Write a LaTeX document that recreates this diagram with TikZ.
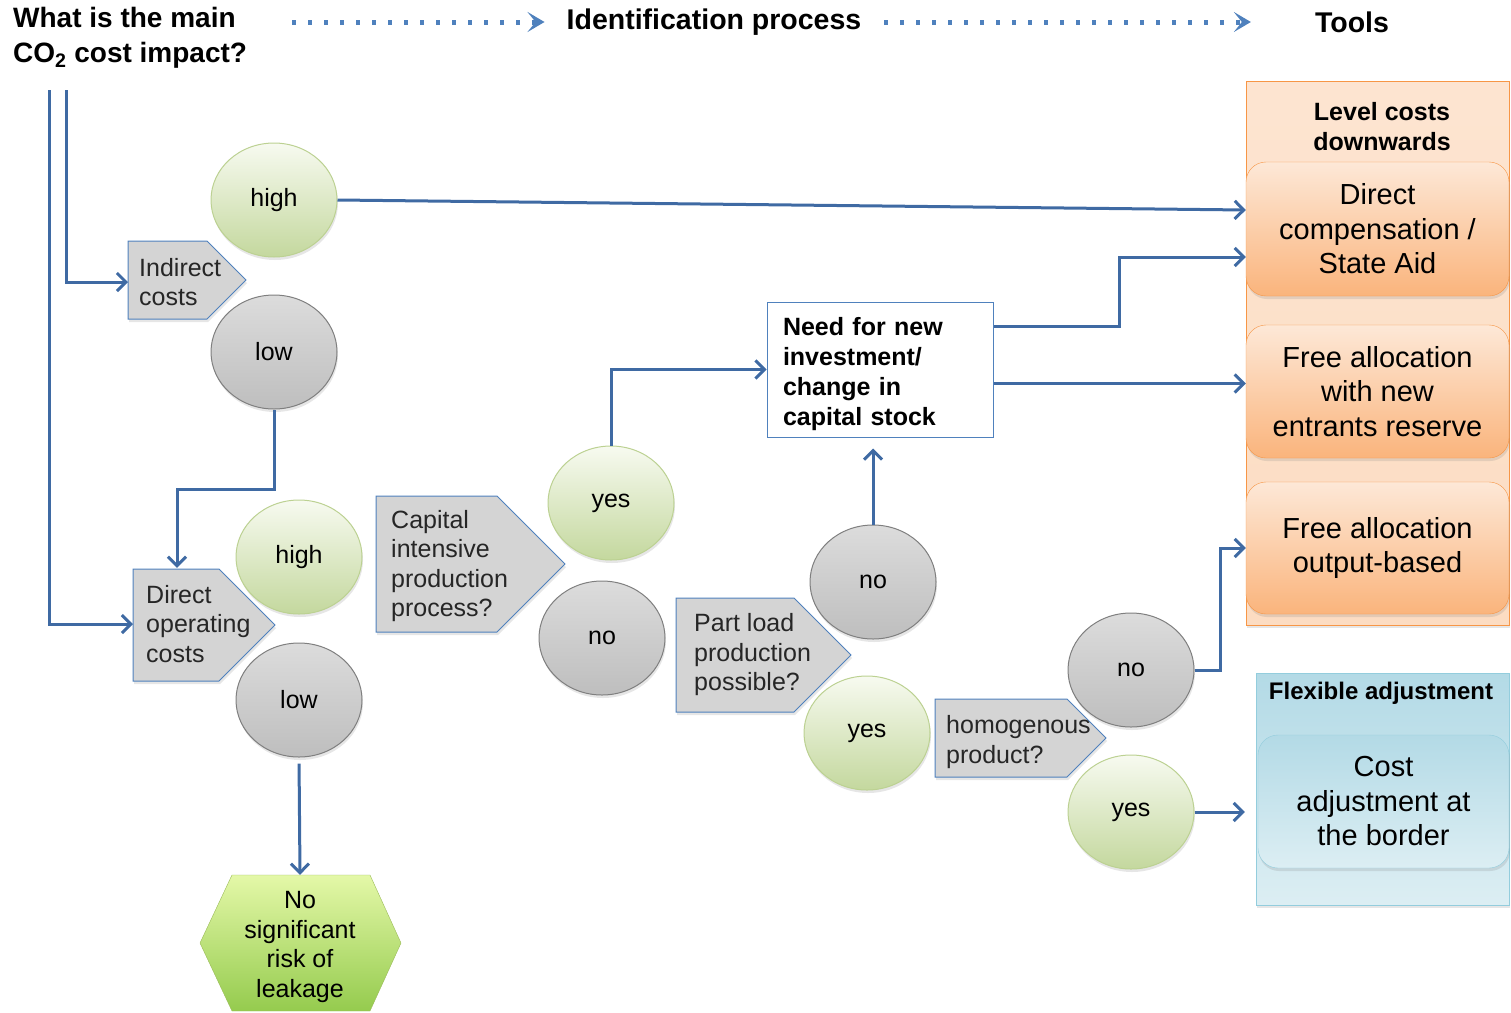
\documentclass[tikz,border=0pt]{standalone}
\usepackage{fontspec}
\setmainfont{Liberation Sans}
\usetikzlibrary{arrows.meta,shapes.geometric,shadows}

\definecolor{linkblue}{HTML}{3F6AA3}
\definecolor{dotblue}{HTML}{4F81BD}
\definecolor{qfill}{HTML}{D4D4D4}
\definecolor{qtext}{HTML}{262626}
\definecolor{greentop}{HTML}{F7FAF0}
\definecolor{greenbot}{HTML}{C4D89E}
\definecolor{greenline}{HTML}{BCD192}
\definecolor{graytop}{HTML}{DCDCDC}
\definecolor{graybot}{HTML}{BEBEBE}
\definecolor{grayline}{HTML}{7F7F7F}
\definecolor{orangeline}{HTML}{F79646}
\definecolor{orangetop}{HTML}{FDE8D7}
\definecolor{orangebot}{HTML}{FAB47C}
\definecolor{orangepanel}{HTML}{FCDCC2}
\definecolor{bluetop}{HTML}{B3DAE6}
\definecolor{bluebot}{HTML}{DCEEF3}
\definecolor{blueline}{HTML}{93CDDD}
\definecolor{hextop}{HTML}{E4F8A8}
\definecolor{hexbot}{HTML}{95CB4E}
\definecolor{hexline}{HTML}{9BBB59}

\tikzset{
  txt/.style={font=\fontsize{25}{29.5}\selectfont},
  boldtxt/.style={font=\fontsize{25}{30}\selectfont\bfseries},
  headtxt/.style={font=\fontsize{28}{35}\selectfont\bfseries, inner sep=0pt},
  link/.style={draw=linkblue, line width=3pt, -{Straight Barb[length=9pt,width=18pt]}},
  dotlink/.style={draw=dotblue, line width=5pt, dash pattern=on 4pt off 12pt,
    -{Stealth[length=17pt,width=20pt,inset=8pt]}},
  greenball/.style={ellipse, txt, minimum width=126pt, minimum height=114pt, inner sep=0pt,
    draw=greenline, line width=1pt, top color=greentop, bottom color=greenbot,
    drop shadow={opacity=0.2, shadow xshift=1pt, shadow yshift=-3pt}},
  grayball/.style={ellipse, txt, minimum width=126pt, minimum height=114pt, inner sep=0pt,
    draw=grayline, line width=1pt, top color=graytop, bottom color=graybot,
    drop shadow={opacity=0.2, shadow xshift=1pt, shadow yshift=-3pt}},
  qshape/.style={draw=dotblue, line width=1pt, fill=qfill,
    drop shadow={opacity=0.2, shadow xshift=1pt, shadow yshift=-3pt}},
  qtxt/.style={txt, text=qtext, align=left, anchor=west, inner ysep=0pt},
  toolbox/.style={rectangle, rounded corners=20pt, draw=orangeline, top color=orangetop,
    bottom color=orangebot, minimum width=263pt, align=center,
    font=\fontsize{29}{34.5}\selectfont,
    drop shadow={opacity=0.2, shadow xshift=1pt, shadow yshift=-3pt}},
}

% pentagon: left x, middle y, width, half height
\newcommand{\qpent}[4]{\path[qshape] (#1,{#2-#4}) -- ({#1+#3-#4},{#2-#4}) -- ({#1+#3},#2)
  -- ({#1+#3-#4},{#2+#4}) -- (#1,{#2+#4}) -- cycle;}

\begin{document}
\begin{tikzpicture}[x=1pt,y=-1pt]
  \useasboundingbox (0,0) rectangle (1511,1012);

  % Headings
  \node[headtxt, anchor=west, align=left] (q) at (13,38) {What is the main\\CO\textsubscript{2} cost impact?};
  \node[headtxt, font=\fontsize{28.5}{35}\selectfont\bfseries] (idp) at (714,22) {Identification process};
  \node[headtxt, font=\fontsize{28.5}{35}\selectfont\bfseries] (tools) at (1352,22) {Tools};
  \draw[dotlink, shorten <=45pt, shorten >=22pt] (q.east |- idp.west) -- (idp.west);
  \draw[dotlink, shorten <=23pt, shorten >=64pt] (idp.east) -- (tools.west);
  \coordinate (qa) at (49,90);
  \coordinate (qb) at (66,90);

  % Tool panels
  \node[draw=orangeline, top color=orangetop!70!orangepanel, bottom color=orangepanel,
    minimum width=263pt, minimum height=544pt,
    drop shadow={opacity=0.2, shadow xshift=1pt, shadow yshift=-3pt}] (lc) at (1377.5,353) {};
  \node[boldtxt, align=center] (lctitle) at (1382,127) {Level costs\\downwards};
  \node[toolbox, minimum height=134pt] (dc) at (1377.5,229) {Direct\\compensation /\\State Aid};
  \node[toolbox, minimum height=133pt] (fa) at (1377.5,391.5) {Free allocation\\with new\\entrants reserve};
  \node[toolbox, minimum height=132pt] (ob) at (1377.5,548) {Free allocation\\output-based};

  \node[draw=blueline, top color=bluetop, bottom color=bluebot,
    minimum width=253pt, minimum height=232pt,
    drop shadow={opacity=0.2, shadow xshift=1pt, shadow yshift=-3pt}] (fx) at (1382.5,789) {};
  \node[boldtxt, font=\fontsize{24}{30}\selectfont\bfseries] (fxtitle) at (1381,693) {Flexible adjustment};
  \node[toolbox, draw=blueline, top color=bluetop, bottom color=bluebot,
    minimum width=251pt, minimum height=133pt] (cba) at (1383.5,801.5) {Cost\\adjustment at\\the border};

  % Questions
  \qpent{128}{280}{118}{39}
  \node[qtxt, inner xsep=11pt, minimum height=78pt] (ind) at (128,282) {Indirect\\costs};
  \qpent{133}{625}{142}{56}
  \node[qtxt, inner xsep=13pt, minimum height=112pt] (dop) at (133,624) {Direct\\operating\\costs};
  \qpent{376}{564}{189}{68}
  \node[qtxt, inner xsep=15pt, minimum height=136pt] (cap) at (376,566) {Capital\\intensive\\production\\process?};
  \qpent{676}{655}{175}{57}
  \node[qtxt, inner xsep=18pt, minimum height=114pt] (pl) at (676,655) {Part load\\production\\possible?};
  \qpent{935}{738}{171}{39}
  \node[qtxt, inner xsep=11pt, minimum height=78pt] (hom) at (935,742) {homogenous\\product?};

  % Answers
  \node[greenball] (h1) at (274,200) {high};
  \node[grayball] (l1) at (274,352) {low};
  \node[greenball] (h2) at (299,557) {high};
  \node[grayball] (l2) at (299,700) {low};
  \node[greenball] (y1) at (611,503) {yes};
  \node[grayball] (n1) at (602,638) {no};
  \node[grayball] (n2) at (873,582) {no};
  \node[greenball] (y2) at (867,733) {yes};
  \node[grayball] (n3) at (1131,670) {no};
  \node[greenball] (y3) at (1131,812) {yes};

  % Need box
  \node[draw=dotblue, line width=1pt, fill=white, boldtxt, align=left, text width=194pt,
    minimum width=226pt, minimum height=135pt, inner xsep=16pt] (need) at (880,369.5)
    {\rule{0pt}{27pt}Need for new\\investment/\\change in\\capital stock};

  % No leakage
  \path[draw=hexline, top color=hextop, bottom color=hexbot]
    (200,943) -- (232,875) -- (370,875) -- (401,943) -- (370,1011) -- (232,1011) -- cycle;
  \node[txt, align=center, minimum width=201pt, minimum height=136pt] (lk) at (300,943)
    {\rule{0pt}{25pt}No\\significant\\risk of\\leakage};

  % Connectors
  \draw[link] (qb) |- (ind.west);
  \draw[link] (qa) |- (dop.west);
  \draw[link] (h1.east) -- ([yshift=19pt]dc.west);
  \draw[link] (l1.south) -- ++(0,80) -| ([xshift=44pt]dop.north west);
  \draw[link, shorten <=6pt] (l2.south) -- (lk.north);
  \draw[link] (y1.north) |- (need.west);
  \draw[link, shorten >=11pt] (n2.north) -- (n2.north |- need.south);
  \draw[link] ([yshift=43pt]need.east) -- ++(126,0) |- ([yshift=-28pt]dc.west);
  \coordinate (nb) at ([yshift=-14pt]need.east);
  \draw[link] (nb) -- (nb -| fa.west);
  \draw[link] (n3.east) -- ++(26,0) |- (ob.west);
  \draw[link, shorten >=11pt] (y3.east) -- (y3.east -| fx.west);
\end{tikzpicture}
\end{document}
